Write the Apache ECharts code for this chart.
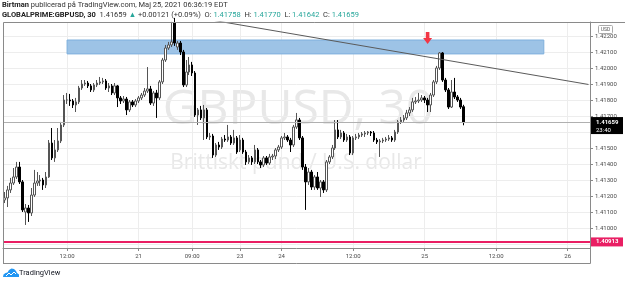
<!DOCTYPE html>
<html>
<head>
<meta charset="utf-8">
<script src="https://cdn.jsdelivr.net/npm/echarts@6/dist/echarts.min.js"></script>
<style>
html,body{margin:0;padding:0;background:#fff;}
#main{width:625px;height:283px;}
</style>
</head>
<body>
<div id="main"></div>
<script>
// 30 minute sessions shown on the axis: day, first bar, last bar
var sessions = [
  ['20', '01:30', '23:30'],
  ['21', '00:00', '16:30'],
  ['23', '17:00', '23:30'],
  ['24', '00:00', '23:30'],
  ['25', '00:00', '23:30'],
  ['26', '00:00', '03:30']
];
// time axis labels
var timeLabels = {
  '20 12:00': '12:00', '21 00:00': '21', '21 09:00': '09:00', '23 17:00': '23',
  '24 00:00': '24', '24 12:00': '12:00', '25 00:00': '25', '25 12:00': '12:00', '26 00:00': '26'
};

// OHLC, one value per 30 minute bar starting 20 01:30
var openP = [1.41175,1.41188,1.41238,1.41281,1.41319,1.41381,1.41288,1.41100,1.41125,1.41094,
  1.41206,1.41281,1.41294,1.41300,1.41269,1.41319,1.41531,1.41438,1.41488,1.41544,
  1.41644,1.41800,1.41800,1.41794,1.41769,1.41788,1.41875,1.41900,1.41906,1.41888,
  1.41863,1.41894,1.41906,1.41913,1.41919,1.41875,1.41888,1.41844,1.41888,1.41813,
  1.41794,1.41806,1.41738,1.41788,1.41769,1.41794,1.41813,1.41831,1.41856,1.41869,
  1.41781,1.41844,1.41813,1.41913,1.42050,1.42125,1.42144,1.42281,1.42131,1.42156,
  1.42100,1.41894,1.41975,1.42019,1.41969,1.41706,1.41738,1.41688,1.41738,1.41569,
  1.41575,1.41456,1.41519,1.41506,1.41556,1.41550,1.41569,1.41531,1.41563,1.41488,
  1.41550,1.41475,1.41413,1.41438,1.41413,1.41488,1.41413,1.41394,1.41438,1.41406,
  1.41444,1.41450,1.41488,1.41506,1.41563,1.41569,1.41550,1.41519,1.41631,1.41675,
  1.41563,1.41381,1.41288,1.41350,1.41256,1.41319,1.41250,1.41288,1.41238,1.41413,
  1.41444,1.41500,1.41613,1.41569,1.41594,1.41550,1.41569,1.41469,1.41563,1.41569,
  1.41581,1.41588,1.41594,1.41600,1.41594,1.41550,1.41538,1.41544,1.41550,1.41556,
  1.41563,1.41550,1.41600,1.41663,1.41675,1.41688,1.41719,1.41738,1.41788,1.41794,
  1.41800,1.41813,1.41800,1.41769,1.41831,1.41913,1.42000,1.42094,1.41925,1.41863,
  1.41756,1.41850,1.41819,1.41800,1.41758];
var closeP = [1.41188,1.41238,1.41281,1.41319,1.41381,1.41288,1.41113,1.41125,1.41094,1.41206,
  1.41281,1.41294,1.41300,1.41269,1.41319,1.41531,1.41438,1.41488,1.41544,1.41644,
  1.41800,1.41800,1.41794,1.41769,1.41788,1.41875,1.41900,1.41906,1.41888,1.41863,
  1.41894,1.41906,1.41913,1.41919,1.41875,1.41888,1.41844,1.41888,1.41813,1.41794,
  1.41806,1.41738,1.41788,1.41769,1.41794,1.41813,1.41831,1.41856,1.41869,1.41781,
  1.41844,1.41813,1.41913,1.42050,1.42125,1.42144,1.42163,1.42156,1.42156,1.42100,
  1.41894,1.41975,1.42019,1.41969,1.41706,1.41738,1.41688,1.41738,1.41569,1.41575,
  1.41456,1.41519,1.41506,1.41556,1.41550,1.41569,1.41531,1.41563,1.41475,1.41550,
  1.41475,1.41413,1.41438,1.41413,1.41488,1.41413,1.41394,1.41438,1.41406,1.41444,
  1.41450,1.41488,1.41506,1.41563,1.41569,1.41550,1.41519,1.41631,1.41675,1.41563,
  1.41381,1.41288,1.41350,1.41256,1.41319,1.41250,1.41288,1.41238,1.41413,1.41444,
  1.41500,1.41613,1.41569,1.41594,1.41550,1.41569,1.41469,1.41563,1.41569,1.41581,
  1.41588,1.41594,1.41600,1.41594,1.41550,1.41538,1.41544,1.41550,1.41556,1.41563,
  1.41550,1.41600,1.41663,1.41675,1.41688,1.41719,1.41738,1.41788,1.41794,1.41800,
  1.41813,1.41800,1.41769,1.41831,1.41913,1.42000,1.42094,1.41925,1.41863,1.41756,
  1.41850,1.41819,1.41800,1.41756,1.41659];
var highP = [1.41225,1.41263,1.41313,1.41375,1.41413,1.41413,1.41300,1.41150,1.41144,1.41250,
  1.41363,1.41350,1.41331,1.41313,1.41350,1.41550,1.41625,1.41550,1.41625,1.41663,
  1.41831,1.41844,1.41838,1.41806,1.41813,1.41888,1.41925,1.41925,1.41919,1.41900,
  1.41906,1.41925,1.41944,1.41938,1.41931,1.41906,1.41900,1.41906,1.41894,1.41825,
  1.41825,1.41819,1.41800,1.41800,1.41806,1.41825,1.41844,1.41875,1.42006,1.41888,
  1.41856,1.41863,1.41925,1.42063,1.42144,1.42163,1.42288,1.42313,1.42169,1.42169,
  1.42113,1.42050,1.42069,1.42038,1.41981,1.41750,1.41763,1.41769,1.41750,1.41594,
  1.41588,1.41531,1.41538,1.41569,1.41581,1.41644,1.41581,1.41613,1.41575,1.41581,
  1.41563,1.41488,1.41456,1.41450,1.41519,1.41500,1.41425,1.41450,1.41450,1.41463,
  1.41463,1.41500,1.41519,1.41575,1.41594,1.41581,1.41563,1.41644,1.41719,1.41688,
  1.41575,1.41400,1.41375,1.41363,1.41331,1.41350,1.41300,1.41300,1.41425,1.41456,
  1.41519,1.41675,1.41675,1.41613,1.41606,1.41588,1.41581,1.41575,1.41588,1.41594,
  1.41600,1.41606,1.41606,1.41606,1.41606,1.41563,1.41556,1.41563,1.41569,1.41581,
  1.41575,1.41613,1.41675,1.41694,1.41706,1.41738,1.41756,1.41813,1.41819,1.41844,
  1.41831,1.41825,1.41813,1.41844,1.41925,1.42013,1.42100,1.42100,1.41938,1.41875,
  1.41925,1.41938,1.41831,1.41813,1.41770];
var lowP = [1.41156,1.41131,1.41219,1.41269,1.41306,1.41275,1.41100,1.41019,1.41038,1.41075,
  1.41194,1.41263,1.41263,1.41238,1.41250,1.41313,1.41425,1.41413,1.41475,1.41531,
  1.41631,1.41775,1.41763,1.41750,1.41725,1.41775,1.41863,1.41888,1.41875,1.41850,
  1.41850,1.41881,1.41894,1.41900,1.41863,1.41850,1.41831,1.41831,1.41756,1.41775,
  1.41781,1.41706,1.41725,1.41756,1.41756,1.41781,1.41800,1.41819,1.41844,1.41769,
  1.41763,1.41688,1.41800,1.41900,1.42038,1.42113,1.42131,1.42138,1.42113,1.42081,
  1.41881,1.41881,1.41956,1.41950,1.41694,1.41644,1.41675,1.41550,1.41556,1.41550,
  1.41438,1.41444,1.41488,1.41494,1.41538,1.41538,1.41519,1.41519,1.41463,1.41475,
  1.41463,1.41394,1.41400,1.41394,1.41400,1.41400,1.41375,1.41381,1.41394,1.41394,
  1.41425,1.41431,1.41475,1.41494,1.41550,1.41538,1.41475,1.41506,1.41619,1.41550,
  1.41363,1.41113,1.41269,1.41238,1.41238,1.41238,1.41194,1.41219,1.41225,1.41400,
  1.41431,1.41488,1.41556,1.41556,1.41538,1.41538,1.41456,1.41456,1.41550,1.41556,
  1.41569,1.41569,1.41581,1.41575,1.41538,1.41525,1.41444,1.41531,1.41538,1.41544,
  1.41538,1.41538,1.41588,1.41650,1.41663,1.41675,1.41700,1.41725,1.41775,1.41781,
  1.41788,1.41781,1.41725,1.41725,1.41819,1.41900,1.41988,1.41913,1.41850,1.41744,
  1.41750,1.41806,1.41788,1.41744,1.41642];

var lastPrice = 1.41659;
var lastCountdown = '23:40';
var supportLevel = 1.40913;
// drawings
var zone = { from: '20 12:00', to: '25 20:00', top: 1.42175, bottom: 1.42088 };
var trendLine = [['21 07:30', 1.42330], ['26 03:30', 1.41897]];
var arrowAt = ['25 00:30', 1.42188];

var FONT = 'Roboto, sans-serif';

function pad(m) {
  var h = Math.floor(m / 60), mm = m % 60;
  return (h < 10 ? '0' : '') + h + ':' + (mm < 10 ? '0' : '') + mm;
}
function toMin(s) {
  var p = s.split(':');
  return +p[0] * 60 + +p[1];
}
var categories = [];
sessions.forEach(function (s) {
  for (var t = toMin(s[1]); t <= toMin(s[2]); t += 30) {
    categories.push(s[0] + ' ' + pad(t));
  }
});
var candles = openP.map(function (o, i) {
  return [o, closeP[i], lowP[i], highP[i]];
});
function isLabeled(index, value) {
  return !!timeLabels[value];
}

var chart = echarts.init(document.getElementById('main'));
var option = {
  animation: false,
  grid: { left: 3, right: 35, top: 22, bottom: 35 },
  xAxis: {
    type: 'category',
    data: categories,
    boundaryGap: true,
    axisLine: { show: true, lineStyle: { color: '#8a8a8a' } },
    axisTick: { show: true, length: 3, alignWithLabel: true, interval: isLabeled, lineStyle: { color: '#8a8a8a' } },
    axisLabel: {
      interval: isLabeled,
      formatter: function (v) { return timeLabels[v] || ''; },
      fontSize: 6, color: '#4a4a4a', margin: 5, fontFamily: FONT
    },
    splitLine: { show: true, alignWithLabel: true, interval: isLabeled, lineStyle: { color: '#ededed' } }
  },
  yAxis: {
    type: 'value',
    position: 'right',
    min: 1.40875,
    max: 1.422875,
    splitNumber: 14,
    axisLine: { show: true, lineStyle: { color: '#8a8a8a' } },
    axisTick: { show: true, length: 3, lineStyle: { color: '#8a8a8a' } },
    axisLabel: {
      formatter: function (v) { return v.toFixed(5); },
      showMinLabel: false, showMaxLabel: false,
      fontSize: 6, color: '#4a4a4a', margin: 5, fontFamily: FONT
    },
    splitLine: { show: true, lineStyle: { color: '#ededed' } }
  },
  series: [
    {
      type: 'candlestick',
      name: 'GBPUSD',
      data: candles,
      barWidth: 2,
      itemStyle: { color: '#ffffff', color0: '#000000', borderColor: '#555555', borderColor0: '#000000', borderWidth: 1 },
      markArea: {
        silent: true,
        itemStyle: { color: '#9dc3e6', borderColor: '#7fb0dd', borderWidth: 1 },
        data: [[{ xAxis: zone.from, yAxis: zone.top }, { xAxis: zone.to, yAxis: zone.bottom }]]
      },
      markLine: {
        silent: true,
        precision: 5,
        symbol: 'none',
        label: { show: false },
        data: [
          { yAxis: lastPrice, lineStyle: { color: '#b0b0b0', width: 1, type: 'solid' } },
          { yAxis: supportLevel, lineStyle: { color: '#e91e63', width: 2, type: 'solid' } }
        ]
      },
      markPoint: {
        silent: true,
        symbol: 'path://M3,0 L7,0 L7,6 L10,6 L5,12 L0,6 L3,6 Z',
        symbolSize: [9, 12],
        itemStyle: { color: '#f23645' },
        label: { show: false },
        data: [{ coord: arrowAt }]
      }
    },
    {
      type: 'line',
      name: 'trend',
      data: trendLine,
      symbol: 'none',
      silent: true,
      z: 3,
      lineStyle: { color: '#5a5a5a', width: 1 }
    }
  ]
};
chart.setOption(option);

var yLast = chart.convertToPixel({ yAxisIndex: 0 }, lastPrice);
var ySup = chart.convertToPixel({ yAxisIndex: 0 }, supportLevel);

chart.setOption({
  graphic: [
    // watermark
    { type: 'text', x: 298, y: 110, z: -1, style: { text: 'GBPUSD, 30', fontSize: 48, fontFamily: 'Open Sans', fill: '#e8e8e8', align: 'center', verticalAlign: 'middle' } },
    { type: 'text', x: 296, y: 163, z: -1, style: { text: 'Brittiskt pund / U.S. dollar', fontSize: 21, fontFamily: 'Open Sans', fill: '#e8e8e8', align: 'center', verticalAlign: 'middle' } },
    // header
    { type: 'text', x: 2, y: 5, z: 100, style: {
      text: '{b|Birtman} publicerad på TradingView.com, Maj 25, 2021 06:36:19 EDT',
      fontSize: 7.5, fontFamily: FONT, fill: '#333', verticalAlign: 'middle',
      rich: { b: { fontWeight: 'bold', fontSize: 7.5, fontFamily: FONT, fill: '#222' } }
    } },
    { type: 'text', x: 2, y: 15, z: 100, style: {
      text: '{b|GLOBALPRIME:GBPUSD, 30}  1.41659 {g|▲} +0.00121 (+0.09%)  O: {g|1.41758}  H: {g|1.41770}  L: {g|1.41642}  C: {g|1.41659}',
      fontSize: 7.5, fontFamily: FONT, fill: '#333', verticalAlign: 'middle',
      rich: {
        b: { fontWeight: 'bold', fontSize: 7.5, fontFamily: FONT, fill: '#222' },
        g: { fontSize: 7.5, fontFamily: FONT, fill: '#26a69a' }
      }
    } },
    // frame
    { type: 'polyline', z: 100, silent: true, shape: { points: [[3.5, 263.5], [3.5, 22.5], [625, 22.5]] }, style: { stroke: '#8a8a8a', lineWidth: 1, fill: null } },
    { type: 'line', z: 100, silent: true, shape: { x1: 3, y1: 263.5, x2: 590.5, y2: 263.5 }, style: { stroke: '#8a8a8a', lineWidth: 1 } },
    { type: 'line', z: 100, silent: true, shape: { x1: 590.5, y1: 248, x2: 590.5, y2: 263.5 }, style: { stroke: '#8a8a8a', lineWidth: 1 } },
    // currency badge
    { type: 'rect', z: 100, shape: { x: 598.5, y: 25.5, width: 14, height: 8, r: 1 }, style: { fill: '#fff', stroke: '#aaa', lineWidth: 1 } },
    { type: 'text', z: 101, x: 605.5, y: 29.8, style: { text: 'USD', fontSize: 5, fontFamily: FONT, fill: '#555', align: 'center', verticalAlign: 'middle' } },
    // last price tag
    { type: 'rect', z: 100, shape: { x: 591, y: yLast - 5.5, width: 32, height: 17 }, style: { fill: '#000' } },
    { type: 'text', z: 101, x: 596, y: yLast, style: { text: lastPrice.toFixed(5), fontSize: 6, fontWeight: 'bold', fontFamily: FONT, fill: '#fff', verticalAlign: 'middle' } },
    { type: 'text', z: 101, x: 596, y: yLast + 7.5, style: { text: lastCountdown, fontSize: 6, fontFamily: FONT, fill: '#fff', verticalAlign: 'middle' } },
    // support tag
    { type: 'rect', z: 100, shape: { x: 591, y: ySup - 4.5, width: 32, height: 9 }, style: { fill: '#e91e63' } },
    { type: 'text', z: 101, x: 596, y: ySup, style: { text: supportLevel.toFixed(5), fontSize: 6, fontWeight: 'bold', fontFamily: FONT, fill: '#fff', verticalAlign: 'middle' } },
    // logo
    { type: 'polygon', z: 100, x: 3, y: 267, shape: { points: [[0, 10], [0.5, 7.5], [2.5, 6], [4.5, 5.5], [6, 3], [8.5, 1.5], [11, 2], [13, 4], [14, 6], [16, 7.5], [16, 10]] }, style: { fill: '#2196f3' } },
    { type: 'polyline', z: 101, x: 3, y: 267, shape: { points: [[3, 9], [6, 6], [8, 8], [11, 5], [13, 7]] }, style: { stroke: '#fff', lineWidth: 1, fill: null } },
    { type: 'text', z: 100, x: 19, y: 273, style: { text: 'TradingView', fontSize: 7.5, fontFamily: FONT, fill: '#131722', verticalAlign: 'middle' } }
  ]
});
</script>
</body>
</html>
